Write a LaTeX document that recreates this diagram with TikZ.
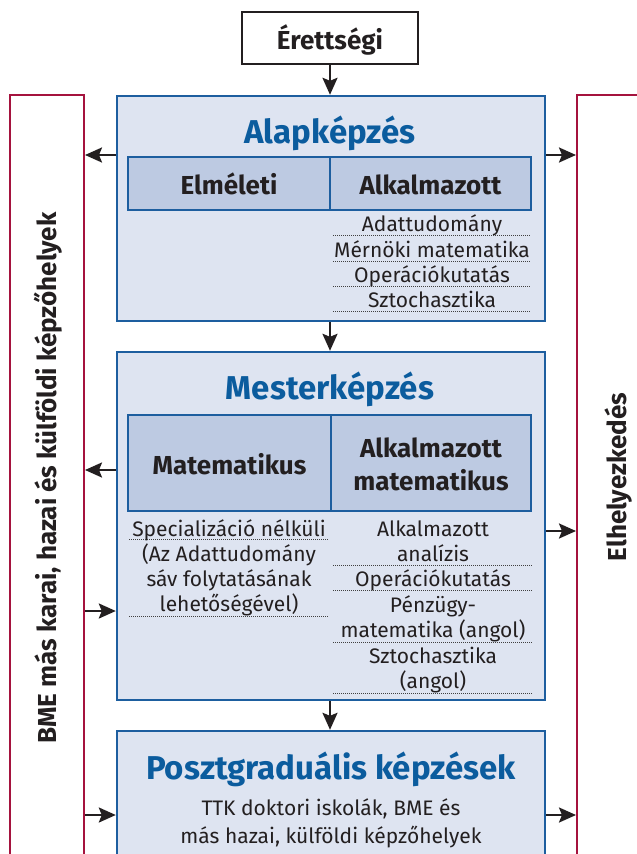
\documentclass[tikz,border=0pt]{standalone}
\usepackage{fontspec}
\setmainfont{Fira Sans}
\usetikzlibrary{arrows.meta}
\definecolor{bblue}{HTML}{1D5E9F}
\definecolor{lfill}{HTML}{DEE4F1}
\definecolor{cfill}{HTML}{BDCAE2}
\definecolor{rred}{HTML}{A5133E}
\definecolor{ttlc}{HTML}{0B5C9E}
\definecolor{txt}{HTML}{231F20}
\tikzset{
 box/.style={draw=bblue, line width=2.4pt, fill=lfill, inner sep=0pt, rectangle},
 cellbox/.style={draw=bblue, line width=2.4pt, fill=cfill, inner sep=0pt, rectangle},
 redbox/.style={draw=rred, line width=2pt, inner sep=0pt, rectangle},
 blackbox/.style={draw=txt, line width=2.4pt, fill=white, inner sep=0pt, rectangle},
 arr/.style={draw=txt, line width=2.4pt, -{Stealth[length=17pt,width=15pt,inset=3pt]}},
 ttl/.style={font=\bfseries\fontsize{33}{36}\selectfont, text=ttlc, inner sep=0pt, anchor=base},
 lab/.style={font=\bfseries\fontsize{26}{30}\selectfont, text=txt, inner sep=0pt, anchor=base},
 itm/.style={font=\fontsize{21}{24}\selectfont, text=txt, inner sep=0pt, anchor=base},
 dotline/.style={draw=black!75, line width=0.9pt, dash pattern=on 1pt off 1pt},
}
\begin{document}
\begin{tikzpicture}[x=1pt,y=-1pt]
\useasboundingbox (0,0) rectangle (637,854);
\begin{scope}
\clip (0,0) rectangle (637,854);
% side boxes
\node[redbox, minimum width=74pt, minimum height=805pt] (lbox) at (47,497.5) {};
\node[redbox, minimum width=123pt, minimum height=805pt] (rbox) at (638.5,497.5) {};
% main boxes
\node[blackbox, minimum width=176pt, minimum height=52pt] (ere) at (330,38) {};
\node[box, minimum width=428pt, minimum height=225pt] (alap) at (331,208.5) {};
\node[box, minimum width=428pt, minimum height=348pt] (mester) at (331,526) {};
\node[box, minimum width=428pt, minimum height=169pt] (poszt) at (331,815.5) {};
% cells
\node[cellbox, minimum width=202pt, minimum height=53pt] (elm) at (229,183.5) {};
\node[cellbox, minimum width=201pt, minimum height=53pt] (alk) at (430.5,183.5) {};
\node[cellbox, minimum width=203pt, minimum height=96pt] (mat) at (229.5,463) {};
\node[cellbox, minimum width=200pt, minimum height=96pt] (amat) at (431,463) {};
\end{scope}
% texts
\node[lab] (tere) at (330,49) {Érettségi};
\node[ttl] (talap) at (330,143.5) {Alapképzés};
\node[lab] (telm) at (229,194.3) {Elméleti};
\node[lab] (talk) at (430.5,194.3) {Alkalmazott};
\node[itm] (a1) at (432,231.7) {Adattudomány};
\node[itm] (a2) at (432,257.7) {Mérnöki matematika};
\node[itm] (a3) at (432,282.7) {Operációkutatás};
\node[itm] (a4) at (432,307) {Sztochasztika};
\foreach \yy in {235.5,261,286,311.5} \draw[dotline] (333,\yy) -- (531,\yy);
\node[ttl] (tmester) at (330,399.5) {Mesterképzés};
\node[lab] (tmat) at (229.5,474) {Matematikus};
\node[lab] (tamat1) at (431,457.7) {Alkalmazott};
\node[lab] (tamat2) at (431,490) {matematikus};
\node[itm] (m1) at (229,536) {Specializáció nélküli};
\node[itm] (m2) at (229,561.7) {(Az Adattudomány};
\node[itm] (m3) at (229,586.7) {sáv folytatásának};
\node[itm] (m4) at (229,611.7) {lehetőségével)};
\foreach \yy in {539.5,616} \draw[dotline] (129,\yy) -- (329,\yy);
\node[itm] (n1) at (433,536) {Alkalmazott};
\node[itm] (n2) at (433,561) {analízis};
\node[itm] (n3) at (433,586.7) {Operációkutatás};
\node[itm] (n4) at (433,612) {Pénzügy-};
\node[itm] (n5) at (433,637.7) {matematika (angol)};
\node[itm] (n6) at (433,663.3) {Sztochasztika};
\node[itm] (n7) at (433,688.3) {(angol)};
\foreach \yy in {565,590.7,642,693} \draw[dotline] (333,\yy) -- (533,\yy);
\node[ttl] (tposzt) at (331,779) {Posztgraduális képzések};
\node[itm] (p1) at (331,815) {TTK doktori iskolák, BME és};
\node[itm] (p2) at (331,843) {más hazai, külföldi képzőhelyek};
\node[lab, rotate=90] (tl) at (56,478) {BME más karai, hazai és külföldi képzőhelyek};
\node[lab, rotate=90] (tr) at (626,477) {Elhelyezkedés};
% arrows
\draw[arr] (ere.south) -- (ere.south |- alap.north);
\draw[arr] (alap.south -| ere.south) -- (mester.north -| ere.south);
\draw[arr] (mester.south -| ere.south) -- (poszt.north -| ere.south);
\draw[arr] (alap.west |- 0,155) -- (lbox.east |- 0,155);
\draw[arr] (alap.east |- 0,155) -- (rbox.west |- 0,155);
\draw[arr] (mester.west |- 0,470) -- (lbox.east |- 0,470);
\draw[arr] (lbox.east |- 0,611) -- (mester.west |- 0,611);
\draw[arr] (mester.east |- 0,531) -- (rbox.west |- 0,531);
\draw[arr] (lbox.east |- 0,815) -- (poszt.west |- 0,815);
\draw[arr] (poszt.east |- 0,815) -- (rbox.west |- 0,815);
\end{tikzpicture}
\end{document}
